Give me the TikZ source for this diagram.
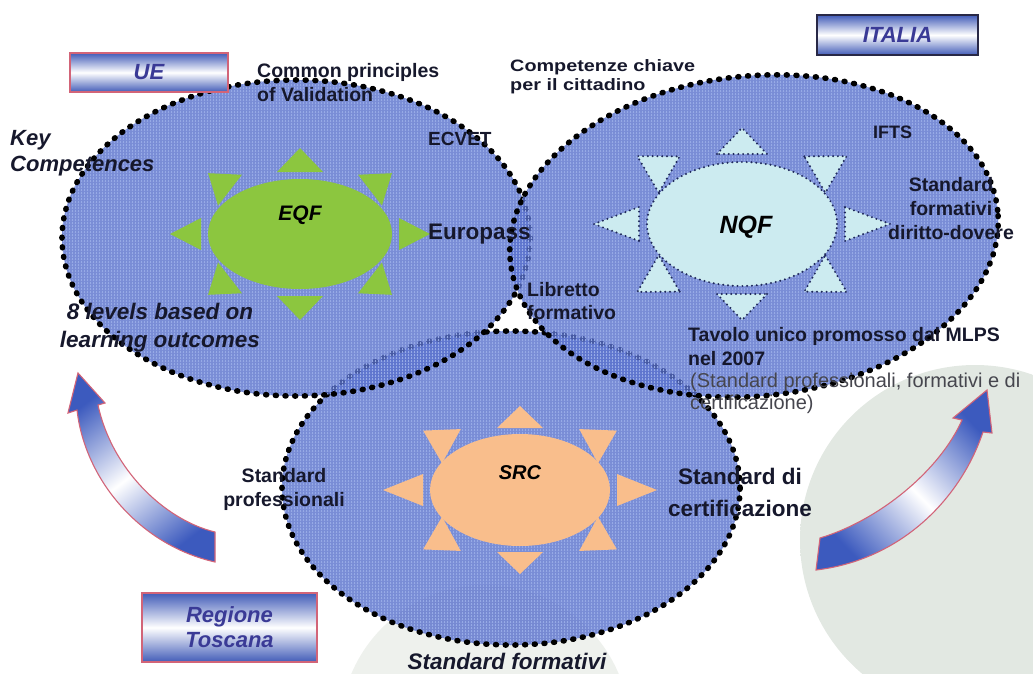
\documentclass[tikz,border=0pt]{standalone}
\usepackage{fontspec}
\setmainfont{Liberation Sans}
\usetikzlibrary{calc,shapes.geometric,patterns}

\definecolor{ellblue}{RGB}{88,112,204}
\definecolor{gridline}{RGB}{150,170,230}
\definecolor{eqfgreen}{RGB}{140,198,63}
\definecolor{nqfcyan}{RGB}{204,235,240}
\definecolor{srcpeach}{RGB}{249,190,140}
\definecolor{rimdot}{RGB}{30,40,90}
\definecolor{boxblue}{RGB}{66,92,184}
\definecolor{boxtext}{RGB}{58,58,150}
\definecolor{pinkrim}{RGB}{210,100,120}
\definecolor{darkrim}{RGB}{40,40,70}
\definecolor{arrowblue}{RGB}{60,90,190}
\definecolor{discgrey}{RGB}{226,232,226}
\definecolor{discpale}{RGB}{238,241,237}
\definecolor{notegrey}{RGB}{70,70,78}
\definecolor{ink}{RGB}{22,24,44}

% soft-edged discs used for the grey halos behind the diagram
\pgfdeclareradialshading{softdisc}{\pgfpoint{0bp}{0bp}}{color(0bp)=(discgrey); color(38bp)=(discgrey); color(50bp)=(white); color(100bp)=(white)}
\pgfdeclareradialshading{palesoftdisc}{\pgfpoint{0bp}{0bp}}{color(0bp)=(discpale); color(25bp)=(discpale); color(50bp)=(white); color(100bp)=(white)}

% eight triangular rays around a sun core:
% #1,#2 centre; #3,#4 tip radii; #5,#6 base radii; #7+#8*sin^2 half base; #9 style
\newcommand{\sunrays}[9]{%
  \foreach \a in {0,45,...,315}{%
    \pgfmathsetmacro{\halfw}{#7+#8*sin(\a)*sin(\a)}%
    \coordinate (raytip) at ({#1+#3*cos(\a)},{#2-#4*sin(\a)});
    \coordinate (raymid) at ({#1+#5*cos(\a)},{#2-#6*sin(\a)});
    \path[#9] ($(raymid)!\halfw pt!90:(raytip)$) -- (raytip) -- ($(raymid)!\halfw pt!-90:(raytip)$) -- cycle;
  }%
}

\tikzset{
  zone/.style={ellipse, inner sep=0pt,
    preaction={fill=ellblue, fill opacity=0.8},
    pattern=grid, pattern color=gridline, fill opacity=0.4,
    draw=black, line width=5.6pt, dash pattern=on 0.9pt off 8.8pt, line cap=round},
  core/.style={ellipse, inner sep=0pt},
  nqfpart/.style={fill=nqfcyan, draw=rimdot, line width=2.2pt, dash pattern=on 0pt off 4.8pt, line cap=round},
  sunlbl/.style={inner sep=0pt, text=black, font=\bfseries\itshape\fontsize{21}{24}\selectfont},
  lbl/.style={inner sep=0pt, text=ink, font=\bfseries\fontsize{19.5}{24}\selectfont},
  tagbox/.style={inner sep=0pt, line width=1.1pt, top color=boxblue, bottom color=boxblue, middle color=white,
    text=boxtext, align=center, font=\bfseries\itshape\fontsize{22}{25}\selectfont},
  bendarrow/.style={draw=pinkrim, line width=1.1pt, top color=arrowblue, bottom color=arrowblue, middle color=white},
}

\begin{document}
\begin{tikzpicture}[x=1pt,y=-1pt]
\useasboundingbox (0,0) rectangle (1033,673);

% grey halos
\path[shading=softdisc] (975,540) circle[radius=175pt];
\path[shading=palesoftdisc] (485,730) circle[radius=145pt];

% the three overlapping areas
\node[zone, minimum width=458pt, minimum height=314pt] (zonerg) at (511,488) {};
\node[zone, minimum width=468pt, minimum height=316pt] (zoneue) at (296,238) {};
\node[zone, minimum width=490pt, minimum height=320pt, rotate=6] (zoneit) at (754,236) {};

% EQF sun
\sunrays{300}{234}{130}{86}{99}{62}{16}{7}{fill=eqfgreen}
\node[core, fill=eqfgreen, minimum width=184pt, minimum height=110pt] (eqfcore) at (300,234) {};
\node[sunlbl] (eqf) at (300,215) {EQF};

% NQF sun
\sunrays{742}{224}{148}{96}{103}{70}{17}{8}{nqfpart}
\node[core, nqfpart, minimum width=190pt, minimum height=124pt] (nqfcore) at (742,224) {};
\node[sunlbl, font=\bfseries\itshape\fontsize{25}{28}\selectfont] (nqf) at (746,227) {NQF};

% SRC sun
\sunrays{520}{490}{137}{84}{97}{62}{16}{7}{fill=srcpeach}
\node[core, fill=srcpeach, minimum width=180pt, minimum height=112pt] (srccore) at (520,490) {};
\node[sunlbl, font=\bfseries\itshape\fontsize{20}{24}\selectfont] (src) at (520,473) {SRC};

% curved arrows
\path[bendarrow, shading angle=37.6]
  (215,532) .. controls (165,520) and (112,470) .. (98,405) -- (105,403) -- (78,373)
  -- (68,413) -- (77,410) .. controls (85,480) and (140,545) .. (215,562) -- cycle;
\path[bendarrow, shading angle=-46]
  (820,538) .. controls (880,520) and (940,470) .. (962,420) -- (953,418) -- (987,390)
  -- (992,433) -- (983,432) .. controls (960,500) and (900,560) .. (816,570) -- cycle;

% level tags
\node[tagbox, draw=pinkrim, minimum width=158pt, minimum height=39pt] (ue) at (149,72.5) {UE};
\node[tagbox, draw=darkrim, minimum width=161pt, minimum height=40pt] (italia) at (897.5,35) {ITALIA};
\node[tagbox, draw=pinkrim, minimum width=175pt, minimum height=69pt] (toscana) at (229.5,627.5) {Regione\\Toscana};

% UE labels
\node[lbl, anchor=north west, align=left] (cpv) at (257,63) {Common principles\\of Validation};
\node[lbl, anchor=north west, align=left, font=\bfseries\itshape\fontsize{22}{26.5}\selectfont] (keyc) at (10,130) {Key\\Competences};
\node[lbl, anchor=north west, font=\bfseries\fontsize{19}{24}\selectfont] (ecvet) at (428,132) {ECVET};
\node[lbl, anchor=north west, font=\bfseries\fontsize{22.5}{26}\selectfont] (europass) at (428,224) {Europass};
\node[lbl, anchor=north, align=center, font=\bfseries\itshape\fontsize{22.5}{28}\selectfont] (levels) at (160,303) {8 levels based on\\learning outcomes};

% ITALIA labels
\node[lbl, anchor=north west, align=left, font=\bfseries\fontsize{16.5}{19.5}\selectfont, xscale=1.2] (ckc) at (510,59) {Competenze chiave\\per il cittadino};
\node[lbl, anchor=north west, font=\bfseries\fontsize{18}{22}\selectfont] (ifts) at (873,126) {IFTS};
\node[lbl, anchor=north, align=center] (sfdd) at (951,177) {Standard\\formativi\\diritto-dovere};
\node[lbl, anchor=north west, align=left, font=\bfseries\fontsize{19.5}{23}\selectfont] (libretto) at (527,282) {Libretto\\formativo};
\node[lbl, anchor=north west, align=left] (tavolo) at (688,327) {Tavolo unico promosso dal MLPS\\nel 2007};
\node[lbl, anchor=north west, align=left, text=notegrey, font=\fontsize{20}{22}\selectfont] (tavnote) at (690,373) {(Standard professionali, formativi e di\\certificazione)};

% Regione Toscana labels
\node[lbl, anchor=north, align=center] (sprof) at (284,468) {Standard\\professionali};
\node[lbl, anchor=north, align=center, font=\bfseries\fontsize{22.5}{32}\selectfont] (scert) at (740,468) {Standard di\\certificazione};
\node[lbl, anchor=north, font=\bfseries\itshape\fontsize{22.5}{26}\selectfont] (sform) at (507,653) {Standard formativi};
\end{tikzpicture}
\end{document}
